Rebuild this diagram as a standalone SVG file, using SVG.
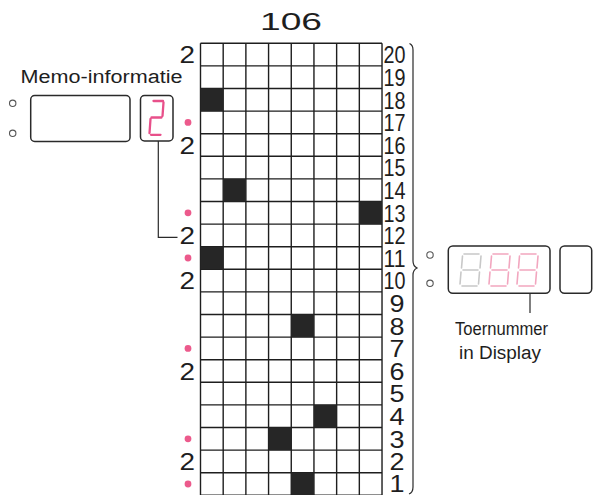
<svg xmlns="http://www.w3.org/2000/svg" width="597" height="495" viewBox="0 0 597 495">
<style>
text{font-family:"Liberation Sans",Arial,sans-serif;fill:#1e1e1e}
.num{font-size:24px}
.lbl{font-size:18px}
.grid{stroke:#1e1e1e;stroke-width:1.4;fill:none}
.cell{fill:#262626}
.dot{fill:#ec5a8c}
.ring{fill:#fff;stroke:#555;stroke-width:1.1}
.box{fill:#fff;stroke:#2a2a2a;stroke-width:1.5}
.seg{fill:none;stroke:#e8508a;stroke-width:2.3;stroke-linecap:round;stroke-linejoin:round}
.segg{fill:none;stroke:#c8c8c8;stroke-width:1.6;stroke-linecap:round}
.segp{fill:none;stroke:#f2a6bf;stroke-width:1.6;stroke-linecap:round}
.conn{fill:none;stroke:#2a2a2a;stroke-width:1.2}
</style>
<rect width="597" height="495" fill="#fff"/>
<g id="title"><text x="260" y="29.5" font-size="24.5" textLength="62" lengthAdjust="spacingAndGlyphs">106</text></g>
<g id="grid">
<path class="grid" d="M200.5,43.3V495.3M223.19,43.3V495.3M245.88,43.3V495.3M268.57,43.3V495.3M291.26,43.3V495.3M313.95,43.3V495.3M336.64,43.3V495.3M359.33,43.3V495.3M382.02,43.3V495.3M200.5,43.3H382.02M200.5,65.9H382.02M200.5,88.5H382.02M200.5,111.1H382.02M200.5,133.7H382.02M200.5,156.3H382.02M200.5,178.9H382.02M200.5,201.5H382.02M200.5,224.1H382.02M200.5,246.7H382.02M200.5,269.3H382.02M200.5,291.9H382.02M200.5,314.5H382.02M200.5,337.1H382.02M200.5,359.7H382.02M200.5,382.3H382.02M200.5,404.9H382.02M200.5,427.5H382.02M200.5,450.1H382.02M200.5,472.7H382.02M200.5,495.3H382.02"/>
<rect class="cell" x="200.5" y="88.5" width="22.69" height="22.6"/>
<rect class="cell" x="223.19" y="178.9" width="22.69" height="22.6"/>
<rect class="cell" x="359.33" y="201.5" width="22.69" height="22.6"/>
<rect class="cell" x="200.5" y="246.7" width="22.69" height="22.6"/>
<rect class="cell" x="291.26" y="314.5" width="22.69" height="22.6"/>
<rect class="cell" x="313.95" y="404.9" width="22.69" height="22.6"/>
<rect class="cell" x="268.57" y="427.5" width="22.69" height="22.6"/>
<rect class="cell" x="291.26" y="472.7" width="22.69" height="22.6"/>
</g>
<g id="row-numbers" class="num">
<text x="383.5" y="63.4" textLength="22" lengthAdjust="spacingAndGlyphs">20</text>
<text x="383.5" y="86" textLength="22" lengthAdjust="spacingAndGlyphs">19</text>
<text x="383.5" y="108.6" textLength="22" lengthAdjust="spacingAndGlyphs">18</text>
<text x="383.5" y="131.2" textLength="22" lengthAdjust="spacingAndGlyphs">17</text>
<text x="383.5" y="153.8" textLength="22" lengthAdjust="spacingAndGlyphs">16</text>
<text x="383.5" y="176.4" textLength="22" lengthAdjust="spacingAndGlyphs">15</text>
<text x="383.5" y="199" textLength="22" lengthAdjust="spacingAndGlyphs">14</text>
<text x="383.5" y="221.6" textLength="22" lengthAdjust="spacingAndGlyphs">13</text>
<text x="383.5" y="244.2" textLength="22" lengthAdjust="spacingAndGlyphs">12</text>
<text x="383.5" y="266.8" textLength="22" lengthAdjust="spacingAndGlyphs">11</text>
<text x="383.5" y="289.4" textLength="22" lengthAdjust="spacingAndGlyphs">10</text>
<text x="389.5" y="312" textLength="15" lengthAdjust="spacingAndGlyphs">9</text>
<text x="389.5" y="334.6" textLength="15" lengthAdjust="spacingAndGlyphs">8</text>
<text x="389.5" y="357.2" textLength="15" lengthAdjust="spacingAndGlyphs">7</text>
<text x="389.5" y="379.8" textLength="15" lengthAdjust="spacingAndGlyphs">6</text>
<text x="389.5" y="402.4" textLength="15" lengthAdjust="spacingAndGlyphs">5</text>
<text x="389.5" y="425" textLength="15" lengthAdjust="spacingAndGlyphs">4</text>
<text x="389.5" y="447.6" textLength="15" lengthAdjust="spacingAndGlyphs">3</text>
<text x="389.5" y="470.2" textLength="15" lengthAdjust="spacingAndGlyphs">2</text>
<text x="389.5" y="492.2" textLength="15" lengthAdjust="spacingAndGlyphs">1</text>
</g>
<g id="left-twos" class="num">
<text x="179.5" y="63.4" textLength="15.5" lengthAdjust="spacingAndGlyphs">2</text>
<text x="179.5" y="153.8" textLength="15.5" lengthAdjust="spacingAndGlyphs">2</text>
<text x="179.5" y="244.2" textLength="15.5" lengthAdjust="spacingAndGlyphs">2</text>
<text x="179.5" y="289.4" textLength="15.5" lengthAdjust="spacingAndGlyphs">2</text>
<text x="179.5" y="379.8" textLength="15.5" lengthAdjust="spacingAndGlyphs">2</text>
<text x="179.5" y="470.2" textLength="15.5" lengthAdjust="spacingAndGlyphs">2</text>
</g>
<g id="pink-dots">
<circle class="dot" cx="188" cy="122.4" r="3.4"/>
<circle class="dot" cx="188" cy="212.8" r="3.4"/>
<circle class="dot" cx="188" cy="258" r="3.4"/>
<circle class="dot" cx="188" cy="348.4" r="3.4"/>
<circle class="dot" cx="188" cy="438.8" r="3.4"/>
<circle class="dot" cx="188" cy="484" r="3.4"/>
</g>
<g id="memo">
<text class="lbl" x="20.5" y="83" textLength="162" lengthAdjust="spacingAndGlyphs">Memo-informatie</text>
<circle class="ring" cx="12.7" cy="103.3" r="3.2"/>
<circle class="ring" cx="12.7" cy="133.3" r="3.2"/>
<rect class="box" x="30.7" y="95.5" width="99.3" height="46" rx="4"/>
<rect class="box" x="140.5" y="95.5" width="32.5" height="45.5" rx="4"/>
<path class="seg" d="M153.5,101H163M163.5,102.5L162.5,116M161.5,117.5H151.5M150.5,119L149.5,133M151,134.8H160.5"/>
</g>
<g id="display">
<circle class="ring" cx="430" cy="255" r="3.2"/>
<circle class="ring" cx="430" cy="283.3" r="3.2"/>
<rect class="box" x="448.3" y="246" width="101.7" height="47.3" rx="4.5"/>
<rect class="box" x="560" y="246" width="31.7" height="47.3" rx="4.5"/>
<path class="segg" d="M464,254H479M462.5,256L461.5,268M481,256L480,268M463,270H478M461,272L460,284M479.5,272L478.5,284M462,286H477"/>
<path class="segp" d="M493,254H508M491.5,256L490.5,268M510,256L509,268M492,270H507M490,272L489,284M508.5,272L507.5,284M491,286H506"/>
<path class="segp" d="M521,254H536M519.5,256L518.5,268M538,256L537,268M520,270H535M518,272L517,284M536.5,272L535.5,284M519,286H534"/>
<text class="lbl" x="455" y="335" textLength="93" lengthAdjust="spacingAndGlyphs">Toernummer</text>
<text class="lbl" x="459" y="359" textLength="82" lengthAdjust="spacingAndGlyphs">in Display</text>
</g>
<g id="connectors">
<path class="conn" d="M158.3,141V237.3H177.5"/>
<path class="conn" d="M530,293.3V313"/>
<path class="conn" d="M409.5,43.5Q413,45 413,50V261Q413,266 417,268Q413,270 413,275V487Q413,492.5 409,494"/>
</g>
</svg>
